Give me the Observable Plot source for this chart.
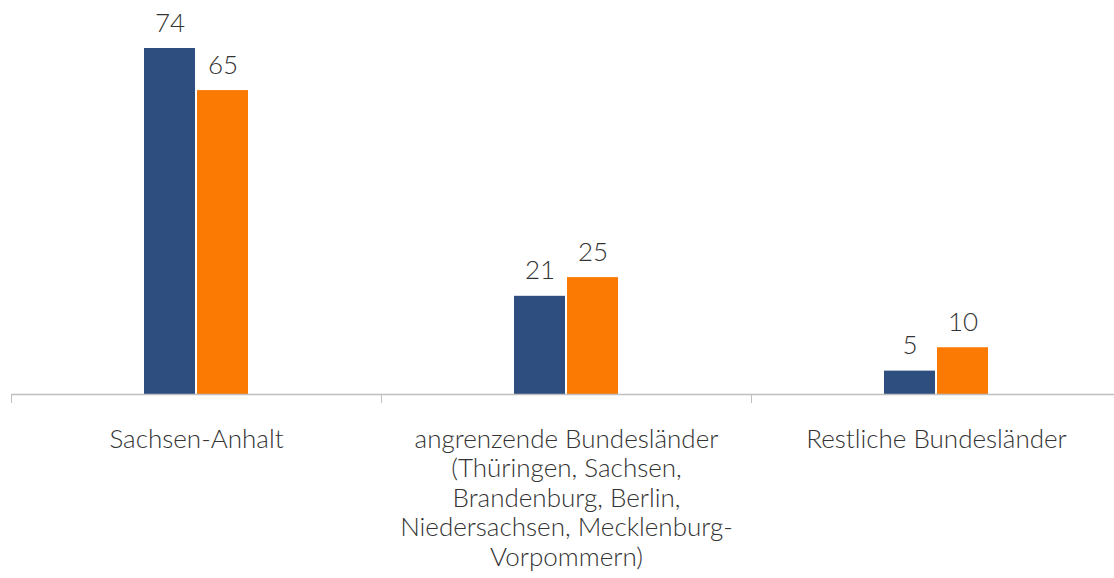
<!DOCTYPE html>
<html>
<head>
<meta charset="utf-8">
<script src="https://cdn.jsdelivr.net/npm/d3@7"></script>
<script src="https://cdn.jsdelivr.net/npm/@observablehq/plot@0.6"></script>
<style>
  html, body { margin: 0; padding: 0; background: #fff; }
  #chart svg { display: block; }
</style>
</head>
<body>
<div id="chart"></div>
<script>
const categories = [
  "Sachsen-Anhalt",
  "angrenzende Bundesländer\n(Thüringen, Sachsen,\nBrandenburg, Berlin,\nNiedersachsen, Mecklenburg-\nVorpommern)",
  "Restliche Bundesländer"
];
const series = ["Serie 1", "Serie 2"];
const values1 = [74, 21, 5];
const values2 = [65, 25, 10];
const colors = ["#2F4E80", "#FA7A04"];

const data = [];
categories.forEach((c, i) => {
  data.push({category: c, series: series[0], value: values1[i]});
  data.push({category: c, series: series[1], value: values2[i]});
});

const textColor = "#333333";

const chart = Plot.plot({
  width: 1114,
  height: 578,
  marginTop: 0,
  marginBottom: 176,
  marginLeft: 11,
  marginRight: 0,
  style: {fontFamily: "Lato, 'Open Sans', sans-serif", fontWeight: 300, background: "#fff"},
  fx: {domain: categories, range: [11, 1121], padding: 0, label: null},
  x: {domain: series, paddingInner: 0.04, paddingOuter: 2.5, axis: null},
  y: {domain: [0, 74], range: [394, 48], axis: null},
  color: {domain: series, range: colors},
  marks: [
    Plot.barY(data, {fx: "category", x: "series", y: "value", fill: "series"}),
    Plot.text(data, {fx: "category", x: "series", y: "value", text: d => String(d.value),
      lineAnchor: "bottom", dy: -17, fontSize: 26, fill: textColor, fontWeight: 300}),
    Plot.ruleY([0], {stroke: "#BFBFBF", strokeWidth: 1.6}),
    Plot.frame({anchor: "left", stroke: "#BFBFBF", strokeWidth: 1, insetTop: 394}),
    Plot.axisFx({anchor: "bottom", tickSize: 0, tickPadding: 24.5, fontSize: 26,
      lineHeight: 1.135, label: null, fill: textColor, fontWeight: 300})
  ]
});

document.getElementById("chart").appendChild(chart);
</script>
</body>
</html>
